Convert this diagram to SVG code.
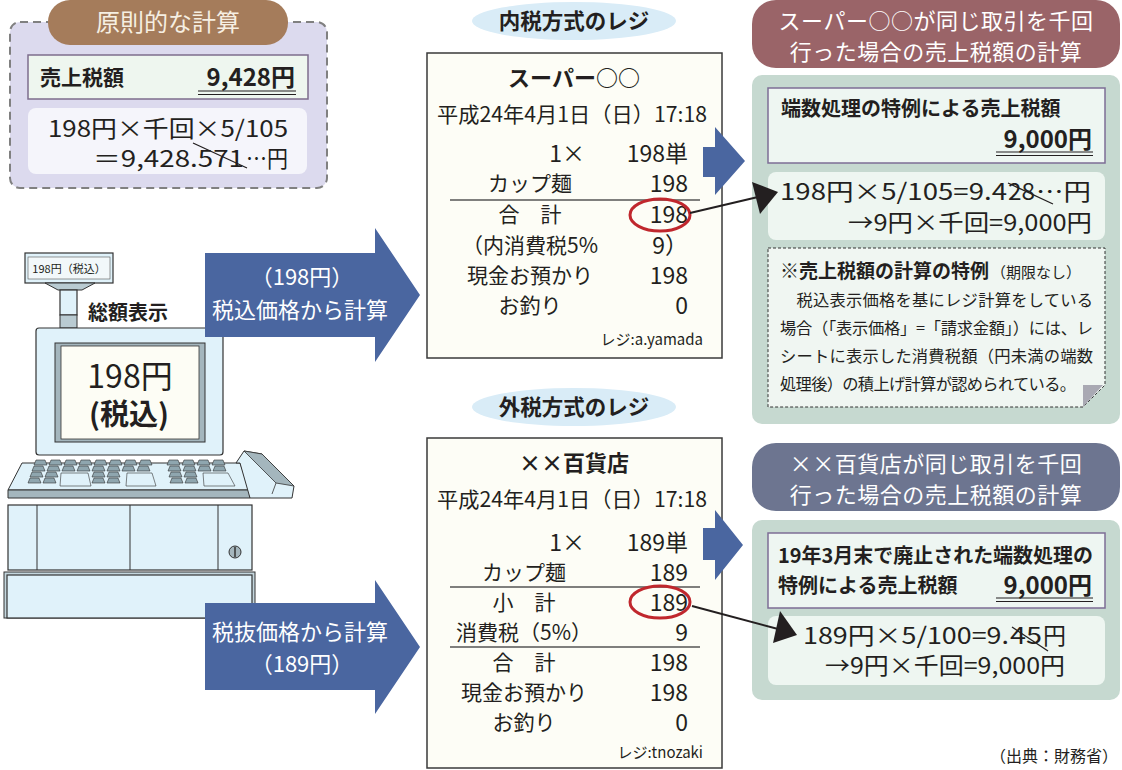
<svg xmlns="http://www.w3.org/2000/svg" xmlns:xlink="http://www.w3.org/1999/xlink" width="1122" height="770" viewBox="0 0 1122 770">
  <style>
    text { font-family: "Noto Sans CJK JP", "Noto Sans", sans-serif; fill: #231f20; }
    .b { font-weight: bold; }
    .w { fill: #ffffff; }
    .hd { fill: #f6efe2; }
    .rc { font-size: 21px; }
    .num { font-size: 23px; text-anchor: end; }
    .mid { text-anchor: middle; }
    .end { text-anchor: end; }
    .receipt { fill: #fdfdf6; stroke: #3a3a3a; stroke-width: 1.5; }
    .tag { fill: #d9ecf7; }
    .panel { fill: #c6d9d0; }
    .inner { fill: #eef6f2; stroke: #7d6d95; stroke-width: 1.5; }
    .calc { fill: #eef6f1; }
    .blue { fill: #4a66a0; }
    .circ { fill: none; stroke: #c0272d; stroke-width: 3; }
    .rule { stroke: #555; stroke-width: 1.5; }
    .strike { stroke: #231f20; stroke-width: 1.3; }
    .dbl { stroke: #231f20; stroke-width: 1.2; }
    .reg { fill: #e0f2fa; stroke: #333; stroke-width: 1.2; }
    .key { fill: #8fa6af; stroke: #333; stroke-width: 0.6; }
    .keyw { fill: #e0f2fa; stroke: #333; stroke-width: 0.6; }
    .calcf { font-size: 23px; }
  </style>
  <defs>
    <path id="k" d="M0,5 L2,0 L11,0 L13,5 Z" class="key"/>
  </defs>

  <!-- principle calculation -->
  <g id="principle">
    <rect x="10" y="22" width="317" height="166" rx="10" fill="#dcdaee" stroke="#808080" stroke-width="2" stroke-dasharray="8,5"/>
    <rect x="48" y="0" width="240" height="45" rx="22" fill="#a57c5b"/>
    <text x="168" y="31" class="hd mid" font-size="24">原則的な計算</text>
    <rect x="28" y="55" width="280" height="44" fill="#eef6ef" stroke="#7d6d8d" stroke-width="1.5"/>
    <text x="40" y="85" class="b" font-size="21">売上税額</text>
    <text x="295" y="86" class="b end" font-size="24">9,428円</text>
    <line x1="198" y1="91" x2="296" y2="91" class="dbl"/>
    <line x1="198" y1="94.5" x2="296" y2="94.5" class="dbl"/>
    <rect x="28" y="108" width="279" height="66" rx="8" fill="#f5f5fb"/>
    <text x="48" y="137" class="calcf" textLength="240" lengthAdjust="spacingAndGlyphs">198円×千回×5/105</text>
    <text x="244" y="167" class="calcf end" textLength="151" lengthAdjust="spacingAndGlyphs">＝9,428.571</text>
    <text x="288" y="167" class="calcf end" textLength="42" lengthAdjust="spacingAndGlyphs">…円</text>
    <line x1="193" y1="143" x2="247" y2="168" class="strike"/>
  </g>

  <!-- cash register -->
  <g id="register">
    <rect x="25" y="253" width="88" height="30" class="reg"/>
    <rect x="28" y="257" width="82" height="22" fill="#f2f8fa" stroke="#555" stroke-width="0.6"/>
    <text x="69" y="273" font-size="11" class="mid">198円（税込）</text>
    <polygon points="45,283 95,283 82,290 58,290" fill="#b9cbd2" stroke="#333" stroke-width="1"/>
    <rect x="60" y="290" width="17" height="25" class="reg"/>
    <rect x="60" y="315" width="17" height="13" fill="#b9cbd2" stroke="#333" stroke-width="1"/>
    <text x="88" y="320" class="b" font-size="20">総額表示</text>
    <rect x="36" y="328" width="187" height="127" rx="3" class="reg"/>
    <rect x="55" y="343" width="150" height="99" fill="#a4b6bd" stroke="#333" stroke-width="1"/>
    <rect x="61" y="346" width="138" height="93" fill="#fdfdf5" stroke="#333" stroke-width="0.8"/>
    <text x="130" y="388" font-size="32" class="mid">198円</text>
    <text x="129" y="425" font-size="29" class="mid b">(税込)</text>
    <!-- keyboard tray -->
    <polygon points="22,463 240,463 250,490 8,490" fill="#e0f2fa" stroke="#333" stroke-width="1"/>
    <polygon points="8,490 250,490 250,498 8,498" fill="#a4b6bd" stroke="#333" stroke-width="1"/>
    <polygon points="236,463 244,451 262,454 294,486 292,498 250,498 240,463" fill="#e0f2fa" stroke="#333" stroke-width="1"/>
    <polygon points="244,451 262,454 294,486 276,483" fill="#a4b6bd" stroke="#333" stroke-width="0.8"/>
    <line x1="276" y1="483" x2="272" y2="494" stroke="#333" stroke-width="0.8"/>
    <g>
      <use xlink:href="#k" x="34" y="460"/><use xlink:href="#k" x="49" y="460"/><use xlink:href="#k" x="64" y="460"/><use xlink:href="#k" x="79" y="460"/><use xlink:href="#k" x="94" y="460"/><use xlink:href="#k" x="109" y="460"/><use xlink:href="#k" x="124" y="460"/><use xlink:href="#k" x="139" y="460"/>
      <use xlink:href="#k" x="32" y="466"/><use xlink:href="#k" x="47" y="466"/><use xlink:href="#k" x="62" y="466"/><use xlink:href="#k" x="77" y="466"/><use xlink:href="#k" x="92" y="466"/><use xlink:href="#k" x="107" y="466"/><use xlink:href="#k" x="122" y="466"/><use xlink:href="#k" x="137" y="466"/>
      <use xlink:href="#k" x="30" y="472"/><use xlink:href="#k" x="45" y="472"/><use xlink:href="#k" x="92" y="472"/><use xlink:href="#k" x="107" y="472"/>
      <use xlink:href="#k" x="28" y="478"/><use xlink:href="#k" x="43" y="478"/><use xlink:href="#k" x="92" y="478"/><use xlink:href="#k" x="107" y="478"/>
      <polygon points="61,473 88,473 91,486 60,486" class="keyw"/>
      <polygon points="127,473 152,473 156,486 126,486" class="keyw"/>
      <use xlink:href="#k" x="167" y="460"/><use xlink:href="#k" x="182" y="460"/><use xlink:href="#k" x="197" y="460"/><use xlink:href="#k" x="212" y="460"/>
      <use xlink:href="#k" x="168" y="466"/><use xlink:href="#k" x="183" y="466"/><use xlink:href="#k" x="198" y="466"/><use xlink:href="#k" x="213" y="466"/>
      <use xlink:href="#k" x="169" y="472"/><use xlink:href="#k" x="184" y="472"/>
      <use xlink:href="#k" x="170" y="478"/><use xlink:href="#k" x="185" y="478"/>
      <polygon points="203,473 228,473 235,486 204,486" class="keyw"/>
    </g>
    <!-- drawer -->
    <rect x="8" y="505" width="244" height="65" class="reg"/>
    <line x1="37" y1="505" x2="37" y2="570" stroke="#333" stroke-width="1"/>
    <line x1="130" y1="505" x2="130" y2="570" stroke="#333" stroke-width="1"/>
    <line x1="218" y1="505" x2="218" y2="570" stroke="#333" stroke-width="1"/>
    <circle cx="235" cy="552" r="6" fill="#a4b6bd" stroke="#333" stroke-width="1"/>
    <line x1="235" y1="547" x2="235" y2="557" stroke="#333" stroke-width="1.5"/>
    <rect x="4" y="572" width="251" height="46" fill="#c4d6dd" stroke="#333" stroke-width="1"/>
    <rect x="7" y="575" width="245" height="43" class="reg"/>
  </g>

  <!-- blue arrows (left) -->
  <g id="arrow-incl">
    <polygon points="205,253 375,253 375,228 420,295 375,362 375,337 205,337" class="blue"/>
    <text x="302" y="285" font-size="22" class="w mid">（198円）</text>
    <text x="300" y="318" font-size="22" class="w mid">税込価格から計算</text>
  </g>
  <g id="arrow-excl">
    <polygon points="205,603 375,603 375,580 420,647 375,714 375,690 205,690" class="blue"/>
    <text x="300" y="640" font-size="22" class="w mid">税抜価格から計算</text>
    <text x="302" y="672" font-size="22" class="w mid">（189円）</text>
  </g>

  <!-- tax-inclusive receipt -->
  <g id="receipt-incl">
    <ellipse cx="574" cy="21" rx="102" ry="19" class="tag"/>
    <text x="574" y="29" font-size="21.5" class="b mid">内税方式のレジ</text>
    <rect x="427" y="53" width="295" height="305" class="receipt"/>
    <text x="574" y="86" font-size="22" class="b mid">スーパー○○</text>
    <text x="437" y="122" class="rc" textLength="270" lengthAdjust="spacingAndGlyphs">平成24年4月1日（日）17:18</text>
    <text x="585" y="162" class="num">1×</text>
    <text x="688" y="162" class="num">198単</text>
    <text x="530" y="191" class="rc mid">カップ麺</text>
    <text x="688" y="192" class="num">198</text>
    <line x1="450" y1="200" x2="700" y2="200" class="rule"/>
    <text x="530" y="222" class="rc mid">合　計</text>
    <text x="688" y="223" class="num">198</text>
    <ellipse cx="660" cy="215" rx="30" ry="16" class="circ"/>
    <text x="530" y="253" class="rc mid">（内消費税5%</text>
    <text x="688" y="254" class="num">9）</text>
    <text x="530" y="283" class="rc mid">現金お預かり</text>
    <text x="688" y="284" class="num">198</text>
    <text x="530" y="313" class="rc mid">お釣り</text>
    <text x="688" y="314" class="num">0</text>
    <text x="703" y="345" font-size="15" class="end">レジ:a.yamada</text>
  </g>

  <!-- tax-exclusive receipt -->
  <g id="receipt-excl">
    <ellipse cx="574" cy="407" rx="102" ry="19" class="tag"/>
    <text x="574" y="415" font-size="21.5" class="b mid">外税方式のレジ</text>
    <rect x="427" y="438" width="295" height="330" class="receipt"/>
    <text x="574" y="471" font-size="22" class="b mid">××百貨店</text>
    <text x="437" y="507" class="rc" textLength="270" lengthAdjust="spacingAndGlyphs">平成24年4月1日（日）17:18</text>
    <text x="585" y="551" class="num">1×</text>
    <text x="688" y="551" class="num">189単</text>
    <text x="524" y="580" class="rc mid">カップ麺</text>
    <text x="688" y="581" class="num">189</text>
    <line x1="450" y1="587" x2="700" y2="587" class="rule"/>
    <text x="524" y="610" class="rc mid">小　計</text>
    <text x="688" y="611" class="num">189</text>
    <ellipse cx="660" cy="602" rx="30" ry="16" class="circ"/>
    <text x="524" y="640" class="rc mid">消費税（5%）</text>
    <text x="688" y="641" class="num">9</text>
    <line x1="450" y1="647" x2="700" y2="647" class="rule"/>
    <text x="524" y="670" class="rc mid">合　計</text>
    <text x="688" y="671" class="num">198</text>
    <text x="524" y="700" class="rc mid">現金お預かり</text>
    <text x="688" y="701" class="num">198</text>
    <text x="524" y="730" class="rc mid">お釣り</text>
    <text x="688" y="731" class="num">0</text>
    <text x="703" y="758" font-size="15" class="end">レジ:tnozaki</text>
  </g>

  <!-- supermarket panel -->
  <g id="panel-super">
    <rect x="752" y="0" width="368" height="68" rx="24" fill="#9a6468"/>
    <text x="936" y="29" font-size="22" class="w mid" letter-spacing="0.5">スーパー○○が同じ取引を千回</text>
    <text x="936" y="60" font-size="22" class="w mid" letter-spacing="0.5">行った場合の売上税額の計算</text>
    <rect x="752" y="75" width="368" height="349" rx="10" class="panel"/>
    <rect x="768" y="88" width="337" height="75" class="inner"/>
    <text x="781" y="116" font-size="20" class="b">端数処理の特例による売上税額</text>
    <text x="1092" y="148" font-size="24" class="b end">9,000円</text>
    <line x1="996" y1="152" x2="1093" y2="152" class="dbl"/>
    <line x1="996" y1="155.5" x2="1093" y2="155.5" class="dbl"/>
    <rect x="768" y="172" width="337" height="68" rx="8" class="calc"/>
    <text x="780" y="200" class="calcf" textLength="227" lengthAdjust="spacingAndGlyphs">198円×5/105=9.4</text>
    <text x="1008" y="200" class="calcf" textLength="27" lengthAdjust="spacingAndGlyphs">28</text>
    <text x="1091" y="200" class="calcf end" textLength="55" lengthAdjust="spacingAndGlyphs">…円</text>
    <text x="1092" y="231" class="calcf end" textLength="244" lengthAdjust="spacingAndGlyphs">→9円×千回=9,000円</text>
    <line x1="1008" y1="183" x2="1053" y2="204" class="strike"/>
    <path d="M768,248 H1105 V385 L1083,407 H768 Z" fill="#f0f6f2" stroke="#333" stroke-width="1" stroke-dasharray="3,2"/>
    <polygon points="1083,385 1103,385 1083,407" fill="#a9a9b3"/>
    <text x="780" y="278"><tspan font-size="19" class="b">※売上税額の計算の特例</tspan><tspan font-size="15" dx="2">（期限なし）</tspan></text>
    <text x="780" y="306" font-size="16.3" textLength="313" lengthAdjust="spacing">　税込表示価格を基にレジ計算をしている</text>
    <text x="780" y="334" font-size="16.3" textLength="313" lengthAdjust="spacing">場合（「表示価格」=「請求金額」）には、レ</text>
    <text x="780" y="362" font-size="16.3" textLength="313" lengthAdjust="spacing">シートに表示した消費税額（円未満の端数</text>
    <text x="780" y="390" font-size="16.3" textLength="296" lengthAdjust="spacing">処理後）の積上げ計算が認められている。</text>
  </g>

  <!-- department store panel -->
  <g id="panel-dept">
    <rect x="752" y="443" width="368" height="68" rx="24" fill="#6d7590"/>
    <text x="936" y="472" font-size="22" class="w mid" letter-spacing="0.5">××百貨店が同じ取引を千回</text>
    <text x="936" y="503" font-size="22" class="w mid" letter-spacing="0.5">行った場合の売上税額の計算</text>
    <rect x="752" y="520" width="368" height="180" rx="10" class="panel"/>
    <rect x="768" y="533" width="337" height="75" class="inner"/>
    <text x="778" y="563" font-size="20" class="b" textLength="315" lengthAdjust="spacingAndGlyphs">19年3月末で廃止された端数処理の</text>
    <text x="778" y="593" font-size="20" class="b">特例による売上税額</text>
    <text x="1092" y="594" font-size="24" class="b end">9,000円</text>
    <line x1="996" y1="598" x2="1093" y2="598" class="dbl"/>
    <line x1="996" y1="601.5" x2="1093" y2="601.5" class="dbl"/>
    <rect x="768" y="616" width="337" height="69" rx="8" class="calc"/>
    <text x="803" y="644" class="calcf" textLength="206" lengthAdjust="spacingAndGlyphs">189円×5/100=9.</text>
    <text x="1010" y="644" class="calcf" textLength="32" lengthAdjust="spacingAndGlyphs">45</text>
    <text x="1066" y="644" class="calcf end">円</text>
    <text x="1065" y="674" class="calcf end" textLength="240" lengthAdjust="spacingAndGlyphs">→9円×千回=9,000円</text>
    <line x1="1012" y1="627" x2="1048" y2="651" class="strike"/>
  </g>

  <text x="1118" y="762" font-size="16" class="end">（出典：財務省）</text>

  <!-- connectors -->
  <g id="connectors">
    <polygon points="703,147 715,147 715,127 745,161 715,195 715,177 703,177" class="blue"/>
    <polygon points="703,528 715,528 715,510 743,545 715,580 715,560 703,560" class="blue"/>
    <line x1="690" y1="213" x2="758" y2="197" stroke="#231f20" stroke-width="2"/>
    <polygon points="778,192 752,182 760,214" fill="#231f20"/>
    <line x1="692" y1="606" x2="778" y2="629" stroke="#231f20" stroke-width="2"/>
    <polygon points="797,635 780,611 773,643" fill="#231f20"/>
  </g>
</svg>
